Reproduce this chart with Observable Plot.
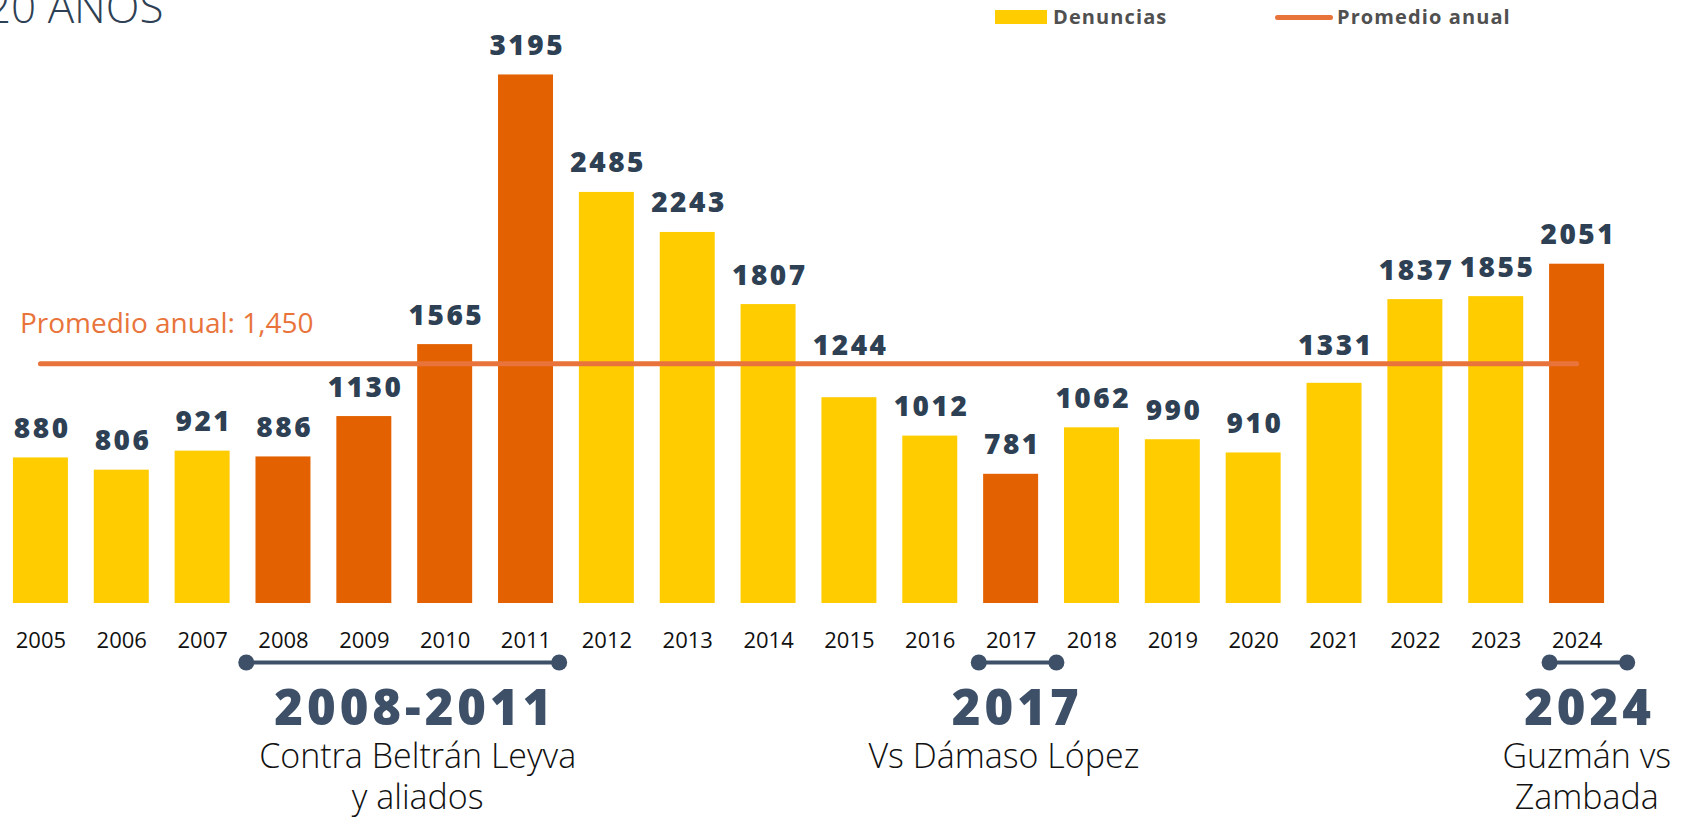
<!DOCTYPE html>
<html>
<head>
<meta charset="utf-8">
<script src="https://cdn.jsdelivr.net/npm/d3@7"></script>
<script src="https://cdn.jsdelivr.net/npm/@observablehq/plot@0.6"></script>
<style>
  html, body { margin: 0; padding: 0; background: #fff; overflow: hidden; }
  #wrap { position: relative; width: 1695px; height: 819px; font-family: "Open Sans", sans-serif; }
  #chart { position: absolute; left: 0; top: 0; }
  #title { position: absolute; left: -14px; top: 0; height: 40px; font-size: 44px; font-weight: 300; color: #2E4053; line-height: 1; white-space: nowrap; }
  #title span { position: absolute; left: 0; top: 28px; transform: translateY(-100%); }
  .lg { position: absolute; top: 5px; font-size: 20px; font-weight: 700; color: #505050; letter-spacing: 1.1px; white-space: nowrap; line-height: 24px; }
  .sw { position: absolute; }
</style>
</head>
<body>
<div id="wrap">
  <div id="chart"></div>
  <div id="title"></div>
  <div class="sw" style="left:995px; top:10px; width:52px; height:14px; background:#FFCC00;"></div>
  <div class="lg" id="lg1" style="left:1053px;"></div>
  <div class="sw" style="left:1275px; top:15px; width:58px; height:5px; border-radius:3px; background:#E8743B;"></div>
  <div class="lg" id="lg2" style="left:1337px;"></div>
</div>
<script>
// ---- Data ----
const years = [2005, 2006, 2007, 2008, 2009, 2010, 2011, 2012, 2013, 2014, 2015, 2016, 2017, 2018, 2019, 2020, 2021, 2022, 2023, 2024];
const denuncias = [880, 806, 921, 886, 1130, 1565, 3195, 2485, 2243, 1807, 1244, 1012, 781, 1062, 990, 910, 1331, 1837, 1855, 2051];
const highlightYears = [2008, 2009, 2010, 2011, 2017, 2024];
const promedio = 1450;
const promedioLabel = "Promedio anual: 1,450";
const titleText = "20 AÑOS";
const legendLabels = ["Denuncias", "Promedio anual"];
const periodLabels = ["2008-2011", "2017", "2024"];
const periodSubs = ["Contra Beltrán Leyva\ny aliados", "Vs Dámaso López", "Guzmán vs\nZambada"];
const periodStart = [2007.54, 2016.6, 2023.66];
const periodEnd = [2011.41, 2017.56, 2024.62];
const periodLabelX = [2009.6, 2017.05, 2024.13];
const periodSubX = [2009.66, 2016.91, 2024.12];

// ---- Build tables ----
const data = years.map((y, i) => ({year: y, value: denuncias[i], hi: highlightYears.includes(y)}));
const periods = periodLabels.map((l, i) => ({label: l, sub: periodSubs[i], start: periodStart[i], end: periodEnd[i], lx: periodLabelX[i], sx: periodSubX[i]}));
const ends = periods.flatMap(p => [{x: p.start}, {x: p.end}]);

const YELLOW = "#FFCC00", ORANGE = "#E36100", LINE = "#E8743B", SLATE = "#2E4053", SLATE2 = "#3D5068";
const nearLine = d => d.value < promedio && d.value > promedio - 250;

document.getElementById("title").innerHTML = `<span>${titleText}</span>`;
document.getElementById("lg1").textContent = legendLabels[0];
document.getElementById("lg2").textContent = legendLabels[1];

const valueStyle = {fontSize: 28, fontWeight: 800, fill: SLATE, dx: 1.25};

const chart = Plot.plot({
  width: 1695,
  height: 819,
  marginLeft: 0,
  marginRight: 78,
  marginTop: 24,
  marginBottom: 216,
  x: {type: "linear", domain: [2004.5, 2024.5], axis: null},
  y: {domain: [0, 3500], axis: null},
  style: {fontFamily: "Open Sans, sans-serif", background: "white", overflow: "visible"},
  marks: [
    Plot.rectY(data, {x1: d => d.year - 0.34, x2: d => d.year + 0.34, y1: 0, y2: "value", fill: d => d.hi ? ORANGE : YELLOW}),
    Plot.ruleY([promedio], {x1: () => years[0], x2: () => years[years.length - 1], stroke: LINE, strokeWidth: 5, strokeLinecap: "round"}),
    Plot.text([promedioLabel], {x: () => years[0], y: () => promedio, dx: -21, dy: -31, textAnchor: "start", lineAnchor: "bottom", fontSize: 28, fill: LINE}),
    // value labels
    Plot.text(data.filter(d => !nearLine(d)), {x: "year", y: "value", text: d => String(d.value), dy: -20, lineAnchor: "bottom", ...valueStyle}),
    Plot.text(data.filter(nearLine), {x: "year", y: () => promedio, text: d => String(d.value), dy: -9, lineAnchor: "bottom", ...valueStyle}),
    // year labels
    Plot.text(years, {x: d => d, y: () => 0, text: d => String(d), dy: 44, lineAnchor: "bottom", fontSize: 22, fill: "#111"}),
    // period brackets
    Plot.ruleY(periods, {y: () => 0, dy: 59, x1: "start", x2: "end", stroke: SLATE2, strokeWidth: 4}),
    Plot.dot(ends, {x: "x", y: () => 0, dy: 59, r: 8, fill: SLATE2}),
    Plot.text(periods, {x: "lx", y: () => 0, text: "label", dy: 121, dx: 2, lineAnchor: "bottom", fontSize: 49, fontWeight: 800, fill: SLATE2}),
    Plot.text(periods, {x: "sx", y: () => 0, text: "sub", dy: 136, lineAnchor: "top", lineHeight: 1.2, fontSize: 34, fontWeight: 300, fill: "#111"})
  ]
});
// letter spacing (Plot has no mark option for it)
d3.select(chart).selectAll('g[font-size="28"][font-weight="800"]').attr("letter-spacing", "2.5px");
d3.select(chart).selectAll('g[font-size="49"]').attr("letter-spacing", "4px");
document.getElementById("chart").appendChild(chart);
</script>
</body>
</html>
